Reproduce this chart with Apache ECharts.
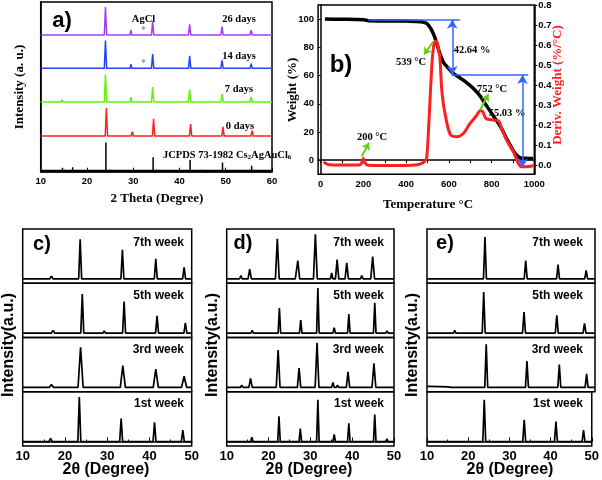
<!DOCTYPE html>
<html><head><meta charset="utf-8">
<script src="https://cdn.jsdelivr.net/npm/echarts@6/dist/echarts.min.js"></script>
<style>html,body{margin:0;padding:0;background:#fff}#main{width:602px;height:480px}</style>
</head><body><div id="main"></div>
<script>
// ---------- Panel a: XRD (2θ, intensity) vertices, flat [x,y,...] ----------
const aRef = [10,0, 14.7,0, 14.7,10, 14.7,0, 16.9,0, 16.9,12, 16.9,0, 24.1,0, 24.1,100, 24.1,0, 29.6,0, 29.6,3, 29.6,0, 34.3,0, 34.3,48, 34.3,0, 42.3,0, 42.3,38, 42.3,0, 49.3,0, 49.3,29, 49.3,0, 55.6,0, 55.6,17, 55.6,0, 60,0];
const a0d = [10,0, 16.8,0, 17,1.5, 17.2,0, 23.95,0, 24.2,100, 24.45,0, 29.55,0, 29.8,15, 30.05,0, 34.15,0, 34.4,61, 34.65,0, 42.15,0, 42.4,43, 42.65,0, 49.15,0, 49.4,33, 49.65,0, 55.45,0, 55.7,19, 55.95,0, 58.3,0, 58.5,3, 58.7,0, 60,0];
const a7d = [10,0, 14.4,0, 14.6,8, 14.8,0, 16.8,0, 17,2, 17.2,0, 23.75,0, 24.0,98, 24.25,0, 29.3,0, 29.5,17, 29.7,0, 33.95,0, 34.2,53, 34.45,0, 41.95,0, 42.2,45, 42.45,0, 48.95,0, 49.2,29, 49.45,0, 55.25,0, 55.5,18, 55.75,0, 58.1,0, 58.3,3, 58.5,0, 60,0];
const a14d = [10,0, 16.8,0, 17,2, 17.2,0, 23.75,0, 24.0,99, 24.25,0, 29.3,0, 29.5,15, 29.7,0, 32.0,0, 32.2,2, 32.4,0, 33.95,0, 34.2,51, 34.45,0, 41.95,0, 42.2,45, 42.45,0, 48.95,0, 49.2,29, 49.45,0, 55.25,0, 55.5,17, 55.75,0, 58.1,0, 58.3,3, 58.5,0, 60,0];
const a26d = [10,0, 16.8,0, 17,1.5, 17.2,0, 23.75,0, 24.0,100, 24.25,0, 29.3,0, 29.5,18, 29.7,0, 32.0,0, 32.2,2, 32.4,0, 33.95,0, 34.2,50, 34.45,0, 41.95,0, 42.2,38, 42.45,0, 48.95,0, 49.2,30, 49.45,0, 55.25,0, 55.5,17, 55.75,0, 58.1,0, 58.3,2, 58.5,0, 60,0];
const aNames = ['JCPDS 73-1982', '0 days', '7 days', '14 days', '26 days'];
const agclMark = [[32.2, 18]]; // asterisk position over 14 and 26 days

// ---------- Panel b: TGA ----------
const tgaT = [20, 100, 200, 230, 300, 400, 470, 495, 510, 525, 540, 558, 574, 590, 605, 620, 636, 660, 683, 714, 746, 777, 808, 840, 870, 902, 918, 933, 955, 980, 995];
const tgaW = [100, 99.9, 99.6, 98.8, 98.7, 98.6, 98.2, 97, 94.5, 90.5, 84.5, 75.5, 69.5, 66.5, 64, 61.5, 60, 57.5, 55, 51, 45.6, 38.5, 31.4, 24.3, 15.4, 6.6, 3.5, 1.9, 1.3, 1.2, 1.2];
const dtgT = [15, 22, 40, 100, 180, 193, 200, 207, 220, 300, 400, 450, 470, 485, 496, 504, 512, 520, 528, 535, 543, 550, 558, 566, 574, 582, 598, 613, 636, 668, 699, 730, 746, 758, 774, 808, 832, 847, 870, 902, 925, 940, 960, 995];
const dtgV = [0.02, 0.012, 0.004, 0.003, 0.003, 0.015, 0.036, 0.015, 0.002, 0.001, 0.001, 0.004, 0.01, 0.02, 0.04, 0.16, 0.33, 0.49, 0.59, 0.62, 0.62, 0.59, 0.54, 0.39, 0.31, 0.26, 0.18, 0.148, 0.144, 0.16, 0.21, 0.25, 0.274, 0.27, 0.235, 0.227, 0.224, 0.186, 0.128, 0.07, 0.012, -0.005, -0.005, 0.0];
const bTickX = [0, 200, 400, 600, 800, 1000];
const bMinorX = [0, 100, 200, 300, 400, 500, 600, 700, 800, 900, 1000];
const bTickL = [0, 20, 40, 60, 80, 100];
const bTickR = [0, 0.1, 0.2, 0.3, 0.4, 0.5, 0.6, 0.7, 0.8];

// ---------- Panels c, d, e (top to bottom: 7th, 5th, 3rd, 1st week) ----------
const c7 = [10,0, 12.2,0, 12.5,1, 12.8,0, 14.2,0, 14.5,3, 14.8,0, 16.4,0, 16.8,6, 17.2,0, 23.25,0, 23.6,89, 23.95,0, 27.5,0, 27.8,3, 28.1,0, 28.7,0, 29.0,3, 29.3,0, 33.25,0, 33.6,65, 33.95,0, 37.3,0, 37.6,3, 37.9,0, 41.15,0, 41.5,45, 41.85,0, 47.85,0, 48.2,26, 48.55,0, 50,0];
const c5 = [10,0, 14.7,0, 15.0,3, 15.3,0, 16.8,0, 17.2,6, 17.6,0, 23.75,0, 24.1,88, 24.45,0, 27.9,0, 28.2,4, 28.5,0, 29.0,0, 29.3,5, 29.6,0, 33.65,0, 34.0,71, 34.35,0, 37.6,0, 37.9,3, 38.2,0, 41.45,0, 41.8,39, 42.15,0, 48.15,0, 48.5,23, 48.85,0, 50,0];
const c3 = [10,0, 12.2,0, 12.5,1, 12.8,0, 14.1,0, 14.5,3, 14.9,0, 16.3,0, 16.8,6, 17.3,0, 23.1,0, 23.7,90, 24.3,0, 27.5,0, 27.9,3, 28.3,0, 28.8,0, 29.2,3, 29.6,0, 33.1,0, 33.7,49, 34.3,0, 37.3,0, 37.7,3, 38.1,0, 40.9,0, 41.5,41, 42.1,0, 47.6,0, 48.2,25, 48.8,0, 50,0];
const c1 = [10,0, 12.0,0, 12.3,1, 12.6,0, 14.1,0, 14.4,4, 14.7,0, 16.2,0, 16.6,7, 17.0,0, 23.05,0, 23.4,100, 23.75,0, 27.3,0, 27.6,3, 27.9,0, 28.5,0, 28.8,4, 29.1,0, 32.95,0, 33.3,52, 33.65,0, 37.1,0, 37.4,3, 37.7,0, 40.85,0, 41.2,43, 41.55,0, 43.5,0, 43.7,1, 43.9,0, 47.55,0, 47.9,26, 48.25,0, 50,0];
const d7 = [10,0, 13.1,0, 13.4,7, 13.7,0, 15.1,0, 15.5,22, 15.9,0, 21.65,0, 22.1,90, 22.55,0, 25.8,0, 26.1,4, 26.4,0, 26.6,0, 27.0,41, 27.45,0, 30.75,0, 31.2,100, 31.65,0, 34.8,0, 35.1,13, 35.4,0, 36.0,0, 36.4,43, 36.8,0, 38.3,0, 38.7,36, 39.1,0, 42.0,0, 42.3,7, 42.6,0, 44.45,0, 44.9,50, 45.35,0, 47.9,0, 48.2,4, 48.5,0, 50,0];
const d5 = [10,0, 13.8,0, 14.0,2, 14.2,0, 15.8,0, 16.1,6, 16.4,0, 22.3,0, 22.6,56, 22.9,0, 26.3,0, 26.5,2, 26.7,0, 27.4,0, 27.7,29, 28.0,0, 31.5,0, 31.8,101, 32.1,0, 35.4,0, 35.7,12, 36.0,0, 38.9,0, 39.2,43, 39.5,0, 42.7,0, 42.9,2, 43.1,0, 45.1,0, 45.4,68, 45.7,0, 48.0,0, 48.3,5, 48.6,0, 50,0];
const d3 = [10,0, 13.3,0, 13.6,5, 13.9,0, 15.3,0, 15.7,20, 16.1,0, 21.85,0, 22.3,84, 22.75,0, 25.8,0, 26.1,3, 26.4,0, 26.9,0, 27.3,43, 27.7,0, 31.15,0, 31.6,100, 32.05,0, 35.1,0, 35.4,11, 35.7,0, 36.2,0, 36.5,5, 36.8,0, 38.6,0, 39.0,35, 39.4,0, 42.3,0, 42.6,3, 42.9,0, 44.75,0, 45.2,54, 45.65,0, 47.9,0, 48.2,4, 48.5,0, 50,0];
const d1 = [10,0, 13.8,0, 14.0,2, 14.2,0, 15.7,0, 16.0,10, 16.3,0, 22.2,0, 22.5,57, 22.8,0, 26.2,0, 26.4,2, 26.6,0, 27.3,0, 27.6,29, 27.9,0, 31.5,0, 31.8,94, 32.1,0, 35.4,0, 35.7,16, 36.0,0, 38.9,0, 39.2,41, 39.5,0, 42.7,0, 42.9,2, 43.1,0, 45.1,0, 45.4,61, 45.7,0, 48.0,0, 48.3,6, 48.6,0, 50,0];
const e7 = [10,0, 14.5,0, 14.8,4, 15.1,0, 16.7,0, 17.0,4, 17.3,0, 19.9,0, 20.1,2, 20.3,0, 21.9,0, 22.1,2, 22.3,0, 23.45,0, 23.8,94, 24.15,0, 27.7,0, 27.9,4, 28.1,0, 28.9,0, 29.1,4, 29.3,0, 33.15,0, 33.5,41, 33.85,0, 37.7,0, 37.9,2, 38.1,0, 40.85,0, 41.2,32, 41.55,0, 47.55,0, 47.9,19, 48.25,0, 50,0];
const e5 = [10,0, 14.1,0, 14.4,4, 14.7,0, 16.3,0, 16.6,6, 16.9,0, 19.8,0, 20.0,2, 20.2,0, 21.8,0, 22.1,3, 22.4,0, 23.15,0, 23.5,92, 23.85,0, 27.5,0, 27.7,3, 27.9,0, 28.9,0, 29.1,4, 29.3,0, 30.4,0, 30.6,3, 30.8,0, 32.75,0, 33.1,47, 33.45,0, 37.3,0, 37.5,3, 37.7,0, 40.55,0, 40.9,40, 41.25,0, 47.15,0, 47.5,22, 47.85,0, 50,0];
const e3 = [10,2, 13,1.5, 15.1,1, 15.4,3, 15.7,0, 16.9,0, 17.2,3, 17.5,0, 20.7,0, 20.9,2, 21.1,0, 22.0,0, 22.3,3, 22.6,0, 23.75,0, 24.1,97, 24.45,0, 28.1,0, 28.3,3, 28.5,0, 29.2,0, 29.4,4, 29.6,0, 33.45,0, 33.8,59, 34.15,0, 37.9,0, 38.1,3, 38.3,0, 41.15,0, 41.5,51, 41.85,0, 47.65,0, 48.0,30, 48.35,0, 50,0];
const e1 = [10,0, 14.7,0, 15.0,3, 15.3,0, 16.9,0, 17.2,3, 17.5,0, 20.0,0, 20.2,2, 20.4,0, 21.9,0, 22.2,3, 22.5,0, 23.55,0, 23.9,94, 24.25,0, 27.8,0, 28.0,3, 28.2,0, 29.0,0, 29.2,3, 29.4,0, 33.25,0, 33.6,49, 33.95,0, 37.9,0, 38.1,3, 38.3,0, 40.95,0, 41.3,45, 41.65,0, 47.65,0, 48.0,26, 48.35,0, 50,0];
const weekNames = ['7th week', '5th week', '3rd week', '1st week'];

// ---------- build ----------
const SERIF = '"Liberation Serif","Times New Roman",serif';
const SANS = '"Liberation Sans",Arial,sans-serif';
function pairs(flat, off, k) { const r = []; for (let i = 0; i < flat.length; i += 2) r.push([flat[i], flat[i + 1] * k + off]); return r; }
function zip(a, b) { return a.map((v, i) => [v, b[i]]); }

const grids = [], xAxes = [], yAxes = [], series = [];
const box = { show: true, borderColor: '#000', borderWidth: 1.5, backgroundColor: 'transparent' };

// panel a
grids.push(Object.assign({ left: 40.7, top: 2, width: 231.3, height: 169.7 }, box));
xAxes.push({ gridIndex: 0, type: 'value', min: 10, max: 60, interval: 10,
  axisLine: { lineStyle: { color: '#000', width: 1.5 } },
  axisTick: { inside: true, length: 4, lineStyle: { color: '#000' } },
  minorTick: { show: true, splitNumber: 2, length: 2, lineStyle: { color: '#000' } },
  axisLabel: { color: '#000', fontWeight: 'bold', fontSize: 9.5, fontFamily: SANS, margin: 5 },
  splitLine: { show: false } });
yAxes.push({ gridIndex: 0, type: 'value', min: 0, max: 606, axisLine: { show: true, lineStyle: { color: '#000', width: 1.5 } },
  axisTick: { show: false }, axisLabel: { show: false }, splitLine: { show: false } });
const aSets = [aRef, a0d, a7d, a14d, a26d];
const aOff = [4, 127.5, 249, 369, 488];
const aCol = ['#000000', '#ff2020', '#66ee11', '#2244ff', '#a040f0'];
aSets.forEach((s, i) => series.push({ type: 'line', name: aNames[i], xAxisIndex: 0, yAxisIndex: 0, data: pairs(s, aOff[i], 1),
  showSymbol: false, lineStyle: { color: aCol[i], width: 1.5 }, itemStyle: { color: aCol[i] }, animation: false, silent: true }));
[3, 4].forEach(i => series.push({ type: 'scatter', xAxisIndex: 0, yAxisIndex: 0, symbolSize: 0, silent: true, animation: false,
  data: agclMark.map(p => [p[0], p[1] + aOff[i]]),
  label: { show: true, formatter: '*', position: 'inside', color: '#6677bb', fontSize: 10, fontWeight: 'bold', fontFamily: SERIF } }));

// panel b
grids.push(Object.assign({ left: 318.1, top: 5, width: 216.2, height: 169.3 }, box));
xAxes.push({ gridIndex: 1, type: 'value', min: -12, max: 1000,
  axisLine: { lineStyle: { color: '#000', width: 1.5 } },
  axisTick: { customValues: bMinorX, length: 3, lineStyle: { color: '#000' } },
  axisLabel: { customValues: bTickX, formatter: v => String(v), color: '#000', fontWeight: 'bold', fontSize: 9.5, fontFamily: SANS, margin: 5 },
  splitLine: { show: false } });
yAxes.push({ gridIndex: 1, type: 'value', min: -10, max: 110, position: 'left',
  axisLine: { show: true, lineStyle: { color: '#000', width: 1.5 } },
  axisTick: { show: true, customValues: bTickL, length: 3, lineStyle: { color: '#000' } },
  axisLabel: { customValues: bTickL, color: '#000', fontWeight: 'bold', fontSize: 9.5, fontFamily: SANS, margin: 4 },
  splitLine: { show: false } });
yAxes.push({ gridIndex: 1, type: 'value', min: -0.043, max: 0.8, position: 'right',
  axisLine: { show: true, lineStyle: { color: '#000', width: 1.5 } },
  axisTick: { show: true, customValues: bTickR, length: 3, lineStyle: { color: '#000' } },
  axisLabel: { customValues: bTickR, formatter: v => v.toFixed(1), color: '#000', fontWeight: 'bold', fontSize: 9.5, fontFamily: SANS, margin: 4 },
  splitLine: { show: false } });
const blue = { color: '#3366ff', width: 1.5, type: 'solid' };
const green = { color: '#66cc11', width: 2, type: 'solid' };
series.push({ type: 'line', xAxisIndex: 1, yAxisIndex: 1, data: zip(tgaT, tgaW), showSymbol: false, smooth: 0.3,
  lineStyle: { color: '#000', width: 3.5 }, animation: false, silent: true,
  markLine: { silent: true, animation: false, label: { show: false }, lineStyle: blue, symbolSize: [8, 9],
    data: [
      [{ coord: [223, 99.6], symbol: 'none' }, { coord: [652, 99.6], symbol: 'none' }],
      [{ coord: [616, 99.6], symbol: 'arrow' }, { coord: [616, 60.3], symbol: 'arrow' }],
      [{ coord: [613, 60.3], symbol: 'none' }, { coord: [972, 60.3], symbol: 'none' }],
      [{ coord: [945, 60.3], symbol: 'arrow' }, { coord: [945, -5.2], symbol: 'arrow' }]
    ] } });
series.push({ type: 'line', xAxisIndex: 1, yAxisIndex: 2, data: zip(dtgT, dtgV), showSymbol: false, smooth: 0.3,
  lineStyle: { color: '#ff2020', width: 3 }, animation: false, silent: true,
  markLine: { silent: true, animation: false, label: { show: false }, lineStyle: green, symbolSize: [7, 7],
    data: [
      [{ coord: [192, 0.045], symbol: 'none' }, { coord: [226, 0.114], symbol: 'arrow' }],
      [{ coord: [527, 0.617], symbol: 'none' }, { coord: [484, 0.554], symbol: 'arrow' }],
      [{ coord: [746, 0.277], symbol: 'none' }, { coord: [785, 0.355], symbol: 'arrow' }]
    ] } });

// panels c, d, e
const panels = [
  { left: 22.7, width: 169, sets: [c7, c5, c3, c1] },
  { left: 226.7, width: 167.3, sets: [d7, d5, d3, d1] },
  { left: 427, width: 168, sets: [e7, e5, e3, e1] }
];
const subTop = 229, subH = 54.25;
panels.forEach(p => {
  p.sets.forEach((s, k) => {
    const gi = grids.length;
    grids.push(Object.assign({ left: p.left, top: subTop + k * subH, width: p.width, height: subH }, box));
    const bottom = k === 3;
    const xi = xAxes.length;
    xAxes.push({ gridIndex: gi, type: 'value', min: 10, max: 50, interval: 10,
      axisLine: { show: bottom, lineStyle: { color: '#000', width: 1.5 } },
      axisTick: { show: bottom, inside: true, length: 4, lineStyle: { color: '#000' } },
      minorTick: { show: bottom, splitNumber: 2, length: 2, lineStyle: { color: '#000' } },
      axisLabel: { show: bottom, color: '#000', fontWeight: 'bold', fontSize: 13, fontFamily: SANS, margin: 4 },
      splitLine: { show: false } });
    const yi = yAxes.length;
    yAxes.push({ gridIndex: gi, type: 'value', min: -10, max: 112, show: false });
    series.push({ type: 'line', name: weekNames[k], xAxisIndex: xi, yAxisIndex: yi, data: pairs(s, 0, 1), showSymbol: false,
      lineStyle: { color: '#000', width: 1.7 }, animation: false, silent: true });
  });
});

// texts
function txt(x, y, text, font, opts) {
  const o = { type: 'text', x: x, y: y, silent: true,
    style: Object.assign({ text: text, font: font, fill: '#000', textAlign: 'center', textVerticalAlign: 'middle', align: 'center', verticalAlign: 'middle' }, (opts && opts.style) || {}) };
  if (opts && opts.rotation) o.rotation = opts.rotation;
  return o;
}
const fA = 'bold 10.5px ' + SERIF;
const fT = 'bold 13px ' + SERIF;
const fBig = 'bold 22px ' + SANS;
const fW = 'bold 12px ' + SANS;
const fAx = 'bold 16px ' + SANS;
const R = Math.PI / 2;
const graphics = [
  txt(62, 21, 'a)', fBig),
  txt(239, 19.5, '26 days', fA), txt(239, 56, '14 days', fA), txt(239, 89.5, '7 days', fA), txt(240, 126, '0 days', fA),
  txt(143.5, 19, 'AgCl', fA),
  { type: 'text', x: 163, y: 154, silent: true, style: { text: '{n|JCPDS 73-1982 Cs}{s|2}{n|AgAuCl}{s|6}', textAlign: 'left', align: 'left', textVerticalAlign: 'middle', verticalAlign: 'middle',
    rich: { n: { font: fA, fill: '#000', verticalAlign: 'bottom', lineHeight: 13 }, s: { font: 'bold 7px ' + SERIF, fill: '#000', verticalAlign: 'bottom', lineHeight: 10 } } } },
  txt(157, 199, '2 Theta (Degree)', fT),
  txt(20, 87, 'Intensity (a. u.)', fT, { rotation: R }),
  txt(341, 65, 'b)', 'bold 24px ' + SANS),
  txt(411, 62, '539 °C', fA), txt(492, 89, '752 °C', fA), txt(372, 137, '200 °C', fA),
  txt(472, 50, '42.64 %', fA), txt(507, 113, '55.03 %', fA),
  txt(428, 205, 'Temperature °C', fT),
  txt(293, 90, 'Weight (%)', fT, { rotation: R }),
  txt(558, 85, 'Deriv. Weight (%/°C)', fT, { rotation: R, style: { fill: '#ff2020' } }),
  txt(42, 244, 'c)', 'bold 20px ' + SANS), txt(243, 243, 'd)', 'bold 20px ' + SANS), txt(445, 243, 'e)', 'bold 20px ' + SANS),
  txt(106, 470, '2θ (Degree)', fAx), txt(309, 470, '2θ (Degree)', fAx), txt(510, 470, '2θ (Degree)', fAx),
  txt(9, 345, 'Intensity(a.u.)', fAx, { rotation: R }), txt(213, 345, 'Intensity(a.u.)', fAx, { rotation: R }), txt(413, 345, 'Intensity(a.u.)', fAx, { rotation: R })
];
const weekRight = [184, 384, 583];
const weekY = [243, 296, 349.5, 404];
weekRight.forEach(xr => weekNames.forEach((w, k) => graphics.push(txt(xr, weekY[k], w, fW, { style: { textAlign: 'right', align: 'right' } }))));

const chart = echarts.init(document.getElementById('main'));
chart.setOption({ animation: false, backgroundColor: '#fff', grid: grids, xAxis: xAxes, yAxis: yAxes, series: series, graphic: graphics });
</script></body></html>
